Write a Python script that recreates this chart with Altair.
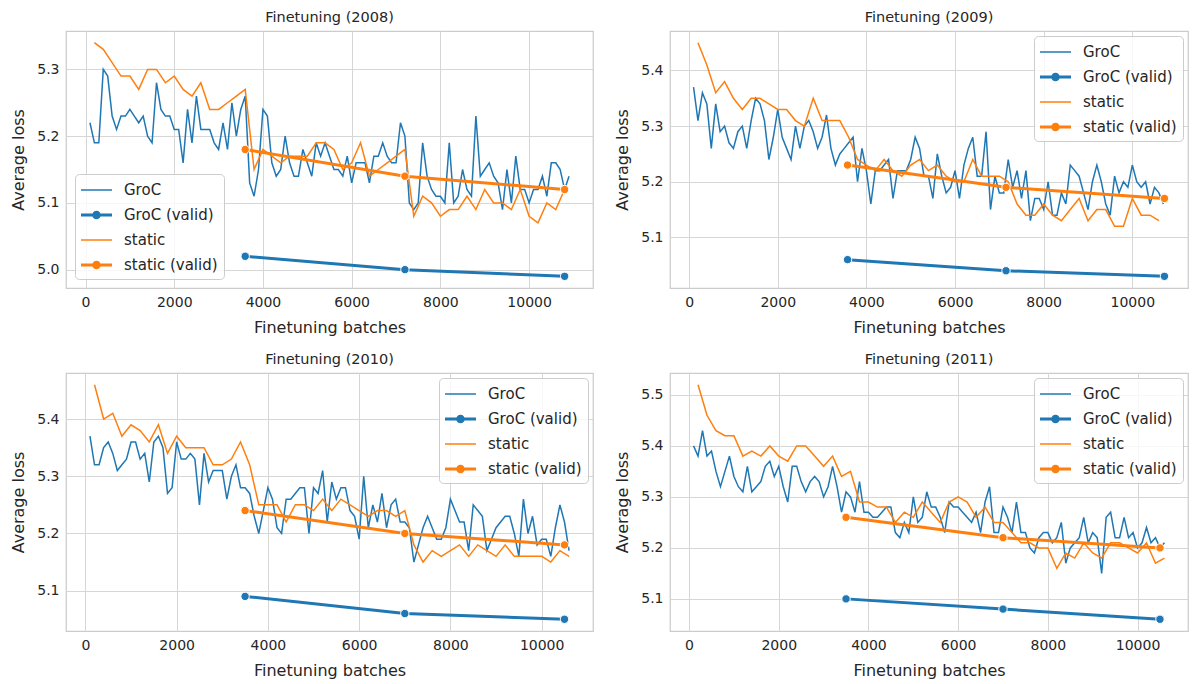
import math
import altair as alt
import pandas as pd

SERIES = ["GroC", "GroC (valid)", "static", "static (valid)"]
COLORS = ["#1f77b4", "#1f77b4", "#ff7f0e", "#ff7f0e"]
GROC_STEP = 100
STATIC_STEP = 200

# ---------------- 2008 ----------------
groc_2008 = [5.22, 5.19, 5.19, 5.30, 5.29, 5.23, 5.21, 5.23, 5.23, 5.24,
             5.23, 5.22, 5.23, 5.20, 5.19, 5.28, 5.24, 5.23, 5.23, 5.21,
             5.21, 5.16, 5.24, 5.19, 5.26, 5.21, 5.21, 5.21, 5.19, 5.18,
             5.22, 5.18, 5.25, 5.20, 5.24, 5.26,
             5.13, 5.11, 5.15, 5.24, 5.23, 5.16, 5.14, 5.15, 5.20, 5.16,
             5.14, 5.14, 5.18, 5.16, 5.14, 5.19, 5.17, 5.19, 5.17, 5.15,
             5.15, 5.14, 5.17, 5.13, 5.16, 5.16, 5.16, 5.13, 5.17, 5.17,
             5.19, 5.17, 5.16, 5.16, 5.22, 5.20, 5.10, 5.09, 5.10, 5.19,
             5.14, 5.12, 5.11, 5.11, 5.10, 5.19, 5.10, 5.11, 5.15, 5.12,
             5.11, 5.23, 5.14, 5.15, 5.16, 5.14, 5.13, 5.09, 5.15, 5.10,
             5.17, 5.12, 5.12, 5.10, 5.12, 5.12, 5.14, 5.11, 5.16, 5.16,
             5.15, 5.12, 5.14]
static_2008 = [5.34, 5.33, 5.31, 5.29, 5.29, 5.27, 5.30, 5.30, 5.28, 5.29,
               5.27, 5.26, 5.28, 5.24, 5.24, 5.25, 5.26, 5.27, 5.15, 5.18,
               5.17, 5.16, 5.17, 5.17, 5.17, 5.19, 5.19, 5.18, 5.15, 5.16,
               5.19, 5.14, 5.15, 5.16, 5.17, 5.18, 5.08, 5.11, 5.10, 5.08,
               5.09, 5.09, 5.11, 5.09, 5.12, 5.10, 5.10, 5.09, 5.12, 5.08,
               5.07, 5.10, 5.09, 5.12]
valid_x_2008 = [3600, 7200, 10800]
groc_valid_2008 = [5.02, 5.00, 4.99]
static_valid_2008 = [5.18, 5.14, 5.12]

# ---------------- 2009 ----------------
groc_2009 = [5.37, 5.31, 5.36, 5.34, 5.26, 5.34, 5.29, 5.30, 5.27, 5.26,
             5.29, 5.30, 5.26, 5.31, 5.35, 5.34, 5.31, 5.24, 5.28, 5.33,
             5.28, 5.26, 5.24, 5.30, 5.26, 5.30, 5.31, 5.29, 5.26, 5.28,
             5.32, 5.26, 5.23, 5.25, 5.26, 5.27,
             5.28, 5.20, 5.26, 5.22, 5.16, 5.22, 5.22, 5.23, 5.24, 5.17,
             5.22, 5.22, 5.22, 5.24, 5.28, 5.26, 5.21, 5.21, 5.17, 5.25,
             5.21, 5.18, 5.19, 5.22, 5.17, 5.23, 5.26, 5.28, 5.21, 5.21,
             5.29, 5.15, 5.21, 5.18, 5.18, 5.24, 5.19, 5.22, 5.17, 5.22,
             5.13, 5.17, 5.17, 5.15, 5.20, 5.14, 5.14, 5.18, 5.16, 5.23,
             5.22, 5.21, 5.18, 5.15, 5.20, 5.23, 5.20, 5.16, 5.14, 5.21,
             5.18, 5.20, 5.19, 5.23, 5.20, 5.19, 5.20, 5.16, 5.19, 5.18,
             5.16]
static_2009 = [5.45, 5.41, 5.36, 5.38, 5.35, 5.33, 5.35, 5.35, 5.34, 5.33,
               5.33, 5.31, 5.30, 5.35, 5.31, 5.31, 5.31, 5.28, 5.24, 5.23,
               5.22, 5.24, 5.22, 5.21, 5.23, 5.24, 5.22, 5.23, 5.21, 5.20,
               5.20, 5.24, 5.21, 5.21, 5.21, 5.20, 5.16, 5.14, 5.14, 5.16,
               5.14, 5.13, 5.15, 5.17, 5.13, 5.15, 5.15, 5.12, 5.12, 5.17,
               5.14, 5.14, 5.13]
valid_x_2009 = [3575, 7150, 10725]
groc_valid_2009 = [5.06, 5.04, 5.03]
static_valid_2009 = [5.23, 5.19, 5.17]

# ---------------- 2010 ----------------
groc_2010 = [5.37, 5.32, 5.32, 5.35, 5.36, 5.34, 5.31, 5.32, 5.33, 5.36,
             5.36, 5.33, 5.34, 5.29, 5.36, 5.37, 5.35, 5.27, 5.28, 5.36,
             5.33, 5.33, 5.34, 5.33, 5.25, 5.34, 5.29, 5.31, 5.31, 5.31,
             5.26, 5.30, 5.32, 5.28, 5.28, 5.27,
             5.23, 5.20, 5.24, 5.28, 5.26, 5.21, 5.20, 5.26, 5.26, 5.27,
             5.28, 5.28, 5.20, 5.28, 5.27, 5.31, 5.22, 5.29, 5.26, 5.28,
             5.28, 5.24, 5.23, 5.19, 5.30, 5.21, 5.25, 5.22, 5.27, 5.21,
             5.25, 5.26, 5.22, 5.22, 5.21, 5.15, 5.18, 5.21, 5.23, 5.21,
             5.19, 5.19, 5.21, 5.26, 5.24, 5.22, 5.22, 5.17, 5.25, 5.24,
             5.23, 5.17, 5.19, 5.21, 5.22, 5.23, 5.23, 5.20, 5.16, 5.26,
             5.20, 5.23, 5.18, 5.19, 5.19, 5.16, 5.21, 5.25, 5.22, 5.17]
static_2010 = [5.46, 5.40, 5.41, 5.37, 5.39, 5.38, 5.36, 5.39, 5.34, 5.37,
               5.35, 5.35, 5.35, 5.32, 5.32, 5.33, 5.36, 5.32, 5.25, 5.25,
               5.25, 5.22, 5.25, 5.25, 5.24, 5.26, 5.24, 5.26, 5.25, 5.24,
               5.23, 5.24, 5.24, 5.23, 5.24, 5.18, 5.15, 5.17, 5.16, 5.17,
               5.18, 5.16, 5.18, 5.17, 5.16, 5.18, 5.16, 5.16, 5.16, 5.16,
               5.15, 5.17, 5.16]
valid_x_2010 = [3500, 7000, 10500]
groc_valid_2010 = [5.09, 5.06, 5.05]
static_valid_2010 = [5.24, 5.20, 5.18]

# ---------------- 2011 ----------------
groc_2011 = [5.40, 5.38, 5.43, 5.38, 5.39, 5.35, 5.32, 5.35, 5.38, 5.34,
             5.32, 5.31, 5.36, 5.31, 5.32, 5.33, 5.36, 5.37, 5.34, 5.36,
             5.32, 5.29, 5.36, 5.36, 5.33, 5.31, 5.33, 5.34, 5.33, 5.30,
             5.32, 5.36, 5.32, 5.27, 5.31, 5.30, 5.27, 5.33, 5.27, 5.27,
             5.26, 5.26, 5.27, 5.28, 5.28, 5.23, 5.22, 5.25, 5.23, 5.30,
             5.25, 5.26, 5.31, 5.28, 5.28, 5.26, 5.23, 5.29, 5.28, 5.28,
             5.27, 5.26, 5.25, 5.27, 5.23, 5.29, 5.32, 5.23, 5.23, 5.28,
             5.26, 5.23, 5.29, 5.23, 5.23, 5.20, 5.19, 5.22, 5.23, 5.23,
             5.21, 5.22, 5.25, 5.17, 5.20, 5.21, 5.22, 5.26, 5.21, 5.23,
             5.22, 5.15, 5.26, 5.27, 5.22, 5.22, 5.26, 5.22, 5.23, 5.20,
             5.21, 5.24, 5.21, 5.22, 5.20, 5.21]
static_2011 = [5.52, 5.46, 5.43, 5.42, 5.42, 5.38, 5.39, 5.38, 5.40, 5.38,
               5.37, 5.40, 5.40, 5.38, 5.36, 5.38, 5.34, 5.35, 5.29, 5.29,
               5.28, 5.28, 5.25, 5.27, 5.26, 5.29, 5.27, 5.25, 5.29, 5.30,
               5.29, 5.26, 5.28, 5.25, 5.25, 5.23, 5.21, 5.21, 5.20, 5.20,
               5.16, 5.19, 5.18, 5.21, 5.19, 5.18, 5.21, 5.21, 5.20, 5.19,
               5.21, 5.17, 5.18]
valid_x_2011 = [3500, 7000, 10500]
groc_valid_2011 = [5.10, 5.08, 5.06]
static_valid_2011 = [5.26, 5.22, 5.20]

FONT = "DejaVu Sans"
TEXT = "#262626"

# legend symbol shapes: line (thin) / line with dot (thick)
THIN = "M-1,-0.075H2.1V0.075H-1Z"
THICK_DOT = ("M-1,-0.14H2.1V0.14H-1Z "
             "M0.98,0A0.43,0.43 0 1,1 0.12,0A0.43,0.43 0 1,1 0.98,0Z")
SHAPES = [THIN, THICK_DOT, THIN, THICK_DOT]


def panel(year, groc, static, vx, gv, sv, orient, offset, width, height):
    rows = []
    for i, v in enumerate(groc):
        rows.append({"batch": GROC_STEP * (i + 1), "loss": v, "series": "GroC"})
    for x, v in zip(vx, gv):
        rows.append({"batch": x, "loss": v, "series": "GroC (valid)"})
    for i, v in enumerate(static):
        rows.append({"batch": STATIC_STEP * (i + 1), "loss": v, "series": "static"})
    for x, v in zip(vx, sv):
        rows.append({"batch": x, "loss": v, "series": "static (valid)"})
    df = pd.DataFrame(rows)

    xmin, xmax = df.batch.min(), df.batch.max()
    xp = 0.05 * (xmax - xmin)
    xlo, xhi = xmin - xp, xmax + xp
    ymin, ymax = df.loss.min(), df.loss.max()
    yp = 0.05 * (ymax - ymin)
    ylo, yhi = ymin - yp, ymax + yp
    xticks = [t for t in range(0, 12001, 2000) if xlo <= t <= xhi]
    yticks = [k / 10 for k in range(math.ceil(ylo * 10 - 1e-9), math.floor(yhi * 10 + 1e-9) + 1)]

    x = alt.X("batch:Q", scale=alt.Scale(domain=[xlo, xhi], nice=False, zero=False),
              axis=alt.Axis(values=xticks, format="d", title="Finetuning batches"))
    y = alt.Y("loss:Q", scale=alt.Scale(domain=[ylo, yhi], nice=False, zero=False),
              axis=alt.Axis(values=yticks, format=".1f", title="Average loss"))
    base = alt.Chart(df).encode(x=x, y=y)

    layers = []
    for s, c in zip(SERIES, COLORS):
        sub = base.transform_filter(alt.datum.series == s)
        if "valid" in s:
            layers.append(sub.mark_line(color=c, strokeWidth=3, point=alt.OverlayMarkDef(
                filled=True, fill=c, size=70, stroke="white", strokeWidth=1, opacity=1)))
        else:
            layers.append(sub.mark_line(color=c, strokeWidth=1.5))

    cscale = alt.Scale(domain=SERIES, range=COLORS)
    leg = alt.Legend(title=None, orient=orient, offset=offset, labelFont=FONT, labelFontSize=15,
                     labelColor=TEXT, symbolSize=400, labelOffset=23, rowPadding=7,
                     padding=6, fillColor="rgba(255,255,255,0.8)", strokeColor="#cccccc",
                     cornerRadius=4, symbolStrokeWidth=0, symbolOpacity=1)
    legend_layer = alt.Chart(df).mark_point(
        filled=True, opacity=0, size=400).encode(
        x=alt.X("batch:Q"), y=alt.Y("loss:Q"),
        color=alt.Color("series:N", scale=cscale, legend=leg),
        shape=alt.Shape("series:N", scale=alt.Scale(domain=SERIES, range=SHAPES), legend=leg),
    )
    layers.insert(0, legend_layer)

    return alt.layer(*layers).properties(
        width=width, height=height,
        title=alt.TitleParams(f"Finetuning ({year})", font=FONT, fontSize=14.5,
                              fontWeight="normal", color=TEXT, anchor="middle", offset=6),
    )


p1 = panel("2008", groc_2008, static_2008, valid_x_2008, groc_valid_2008, static_valid_2008,
           "bottom-left", 9, 527, 257)
p2 = panel("2009", groc_2009, static_2009, valid_x_2009, groc_valid_2009, static_valid_2009,
           "top-right", 5, 518, 257)
p3 = panel("2010", groc_2010, static_2010, valid_x_2010, groc_valid_2010, static_valid_2010,
           "top-right", 5, 527, 258)
p4 = panel("2011", groc_2011, static_2011, valid_x_2011, groc_valid_2011, static_valid_2011,
           "top-right", 5, 518, 258)

chart = alt.concat(p1, p2, p3, p4, columns=2, spacing={"row": 85, "column": 77}, bounds="flush"
).resolve_scale(
    x="independent", y="independent", color="independent", shape="independent"
).resolve_legend(color="independent", shape="independent").properties(
    padding={"left": 2, "top": 0, "right": 0, "bottom": 0}
).configure_view(stroke="#cccccc", strokeWidth=1.25).configure_axis(
    grid=True, gridColor="#d6d6d6", gridWidth=1, domain=False, ticks=False,
    labelFont=FONT, labelFontSize=14, labelColor=TEXT, labelPadding=7,
    titleFont=FONT, titleFontSize=16, titleColor=TEXT, titleFontWeight="normal",
    titlePadding=10,
)

chart.save("out.html", embed_options={"renderer": "svg", "actions": False})
